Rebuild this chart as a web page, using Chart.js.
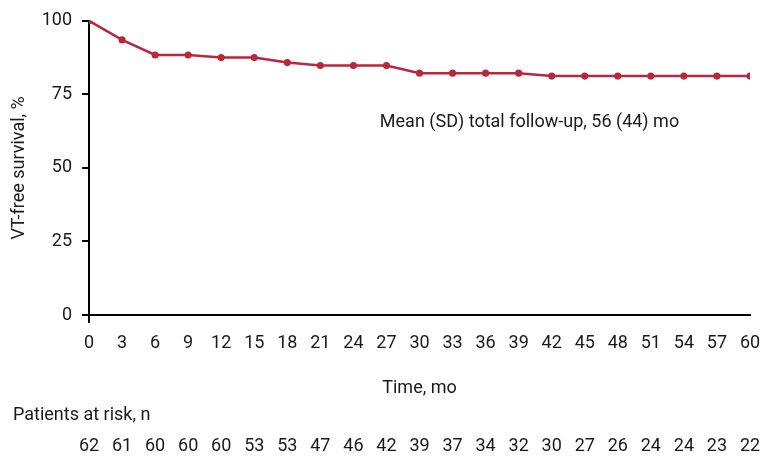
<!DOCTYPE html>
<html lang="en">
<head>
  <meta charset="UTF-8" />
  <title>VT-free survival</title>
  <script src="https://cdn.jsdelivr.net/npm/chart.js"></script>
  <style>
    html, body { margin: 0; padding: 0; background: #fff; }
    #wrap { width: 762px; height: 457px; }
  </style>
</head>
<body>
  <div id="wrap"><canvas id="chart" width="762" height="457"></canvas></div>

  <script>
    // months of follow-up
    const months = [0, 3, 6, 9, 12, 15, 18, 21, 24, 27, 30, 33, 36, 39, 42, 45, 48, 51, 54, 57, 60];
    // VT-free survival, %
    const survival = [100, 93.5, 88.4, 88.4, 87.5, 87.5, 85.8, 84.8, 84.8, 84.8, 82.2, 82.2, 82.2, 82.2, 81.2, 81.2, 81.2, 81.2, 81.2, 81.2, 81.2];
    // patients at risk, n
    const atRisk = [62, 61, 60, 60, 60, 53, 53, 47, 46, 42, 39, 37, 34, 32, 30, 27, 26, 24, 24, 23, 22];
    const yTicks = [0, 25, 50, 75, 100];

    const note = "Mean (SD) total follow-up, 56 (44) mo";
    const FONT = "Roboto";
    const INK = "#1a1a1a";
    const RED = "#b8283c";

    const extras = {
      id: "extras",
      afterDraw(chart) {
        const { ctx, chartArea, scales } = chart;
        const x = scales.x, y = scales.y;
        ctx.save();
        ctx.fillStyle = INK;
        ctx.font = `18px ${FONT}`;
        ctx.textBaseline = "middle";

        // annotation inside the plot
        ctx.textAlign = "left";
        ctx.fillText(note, x.getPixelForValue(26.4), y.getPixelForValue(65.3));

        // x axis title
        ctx.textAlign = "center";
        ctx.fillText("Time, mo", x.getPixelForValue(30), chartArea.bottom + 73);

        // risk table
        ctx.textAlign = "left";
        ctx.fillText("Patients at risk, n", 13, chartArea.bottom + 100);
        ctx.textAlign = "center";
        months.forEach((m, i) => {
          ctx.fillText(String(atRisk[i]), x.getPixelForValue(m), chartArea.bottom + 131);
        });
        ctx.restore();
      }
    };

    new Chart(document.getElementById("chart"), {
      type: "line",
      data: {
        datasets: [{
          data: months.map((m, i) => ({ x: m, y: survival[i] })),
          borderColor: RED,
          backgroundColor: RED,
          borderWidth: 2.5,
          pointRadius: 2.3,
          pointHoverRadius: 2.3,
          tension: 0,
          fill: false
        }]
      },
      options: {
        responsive: false,
        animation: false,
        layout: { padding: { top: 11, right: 0, left: 0, bottom: 0 } },
        plugins: {
          legend: { display: false },
          tooltip: { enabled: false }
        },
        scales: {
          x: {
            type: "linear",
            min: 0,
            max: 60,
            afterFit: s => { s.height = 142; s.paddingRight = 12; s.paddingLeft = 0; },
            afterBuildTicks: s => { s.ticks = months.map(v => ({ value: v })); },
            border: { color: "#000", width: 2 },
            grid: {
              drawOnChartArea: false,
              drawTicks: true,
              tickLength: 8,
              lineWidth: 2,
              color: c => (c.tick && c.tick.value === 0 ? "#000" : "rgba(0,0,0,0)")
            },
            ticks: {
              autoSkip: false,
              maxRotation: 0,
              padding: 10,
              color: INK,
              font: { family: FONT, size: 18 }
            }
          },
          y: {
            min: 0,
            max: 100,
            afterFit: s => { s.width = 89; },
            afterBuildTicks: s => { s.ticks = yTicks.map(v => ({ value: v })); },
            border: { color: "#000", width: 2 },
            grid: {
              drawOnChartArea: false,
              drawTicks: true,
              tickLength: 7,
              lineWidth: 2,
              color: "#000"
            },
            ticks: {
              padding: 10,
              color: INK,
              font: { family: FONT, size: 18 }
            },
            title: {
              display: true,
              text: "VT-free survival, %",
              color: INK,
              padding: { top: 9, bottom: 0 },
              font: { family: FONT, size: 18 }
            }
          }
        }
      },
      plugins: [extras]
    });
  </script>
</body>
</html>
